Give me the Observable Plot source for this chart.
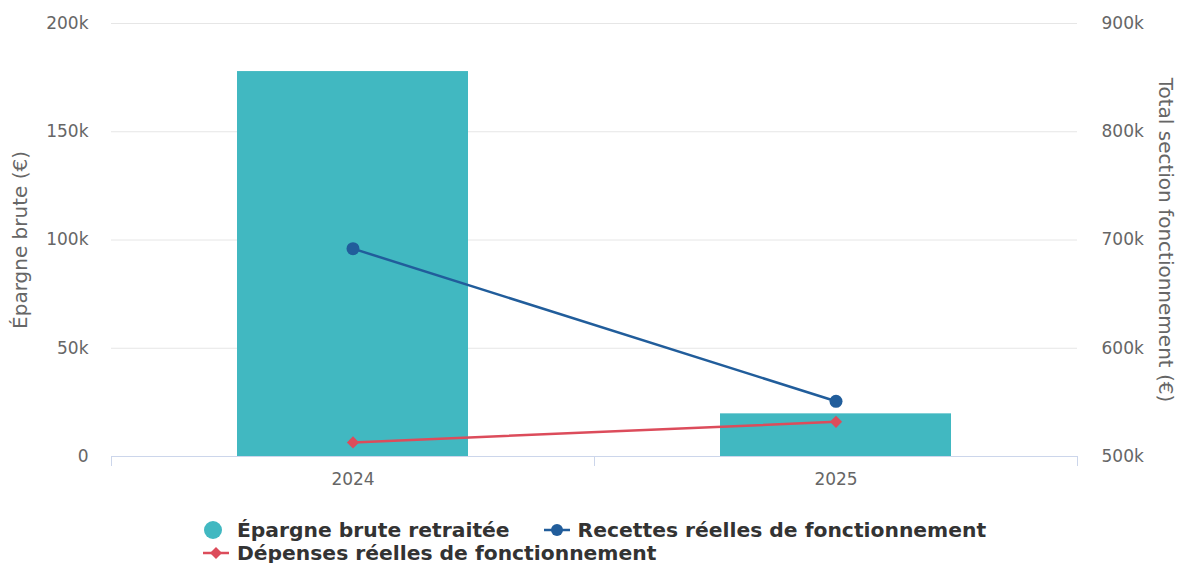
<!DOCTYPE html>
<html><head><meta charset="utf-8">
<script src="https://cdn.jsdelivr.net/npm/d3@7"></script>
<script src="https://cdn.jsdelivr.net/npm/@observablehq/plot@0.6"></script>
<style>
body{margin:0;background:#fff;font-family:"DejaVu Sans",sans-serif;}
#chart svg{display:block;}
#legend{position:relative;margin-left:203px;width:820px;display:flex;flex-wrap:wrap;column-gap:34px;row-gap:0px;margin-top:18px;}
.item{display:flex;align-items:center;height:23px;font-weight:bold;font-size:20.3px;color:#333;white-space:nowrap;}
.item svg{margin-right:8px;}
</style></head><body><div id="chart"></div><div id="legend"></div>
<script>
const years = ["2024", "2025"];
const epargne = [177800, 19700];
const recettes = [692000, 551000];
const depenses = [513000, 532000];
const leftTicks = [0, 50000, 100000, 150000, 200000];
const rightTicks = [500000, 600000, 700000, 800000, 900000];
const seriesNames = ["Épargne brute retraitée", "Recettes réelles de fonctionnement", "Dépenses réelles de fonctionnement"];
const colors = ["#41b8c1", "#215d9b", "#dc4c5b"];
const leftTitle = "Épargne brute (€)";
const rightTitle = "Total section fonctionnement (€)";

const rightMin = rightTicks[0], rightMax = rightTicks[rightTicks.length - 1], leftMax = leftTicks[leftTicks.length - 1];
const toLeft = v => (v - rightMin) * leftMax / (rightMax - rightMin);
const fromLeft = d => rightMin + d * (rightMax - rightMin) / leftMax;
const kfmt = v => v === 0 ? "0" : Math.round(v / 1000) + "k";

const bars = years.map((y, i) => ({year: y, value: epargne[i]}));
const rec = years.map((y, i) => ({year: y, value: toLeft(recettes[i])}));
const dep = years.map((y, i) => ({year: y, value: toLeft(depenses[i])}));

const W = 1180, H = 500, ML = 111, MR = 103;
const padIn = 0.522, padOut = padIn / 2;

// category boundary ticks below the x baseline (Highcharts-style)
function boundaryTicks(index, scales, values, dims) {
  const g = d3.create("svg:g");
  const n = years.length;
  const x0 = dims.marginLeft, x1 = dims.width - dims.marginRight;
  const y0 = scales.y(0);
  for (let k = 0; k <= n; k++) {
    const x = x0 + k * (x1 - x0) / n;
    g.append("line").attr("x1", x).attr("x2", x).attr("y1", y0).attr("y2", y0 + 10)
      .attr("stroke", "#ccd6eb").attr("stroke-width", 1).attr("shape-rendering", "crispEdges");
  }
  return g.node();
}

const plot = Plot.plot({
  width: W, height: H,
  marginLeft: ML, marginRight: MR, marginTop: 23, marginBottom: 44,
  style: {fontFamily: "DejaVu Sans, sans-serif", fontSize: "17px", color: "#666", background: "#fff"},
  x: {type: "band", domain: years, paddingInner: padIn, paddingOuter: padOut, label: null},
  y: {domain: [0, leftMax], label: null},
  marks: [
    Plot.gridY(leftTicks.slice(1), {stroke: "#e6e6e6", strokeOpacity: 1}),
    Plot.barY(bars, {x: "year", y: "value", fill: colors[0]}),
    Plot.ruleY([0], {stroke: "#ccd6eb", strokeWidth: 1}),
    boundaryTicks,
    Plot.line(rec, {x: "year", y: "value", stroke: colors[1], strokeWidth: 2.5}),
    Plot.dot(rec, {x: "year", y: "value", fill: colors[1], r: 6.5, symbol: "circle"}),
    Plot.line(dep, {x: "year", y: "value", stroke: colors[2], strokeWidth: 2.5}),
    Plot.dot(dep, {x: "year", y: "value", fill: colors[2], r: 5.5, symbol: "diamond2"}),
    Plot.axisY(leftTicks, {anchor: "left", tickSize: 0, tickPadding: 23, tickFormat: kfmt, label: null, fontSize: 17, fill: "#666"}),
    Plot.axisY(leftTicks, {anchor: "right", tickSize: 0, tickPadding: 24, tickFormat: d => kfmt(fromLeft(d)), label: null, fontSize: 17, fill: "#666"}),
    Plot.axisX({tickSize: 0, tickPadding: 16, fontSize: 17, fill: "#666", label: null}),
    Plot.text([leftTitle], {frameAnchor: "left", textAnchor: "middle", rotate: -90, dx: -91, fontSize: 20, fill: "#666"}),
    Plot.text([rightTitle], {frameAnchor: "right", textAnchor: "middle", rotate: 90, dx: 88, fontSize: 20, fill: "#666"})
  ]
});
document.getElementById("chart").appendChild(plot);

const legend = document.getElementById("legend");
const symbols = [
  `<svg width="26" height="20"><circle cx="10" cy="10" r="9" fill="${colors[0]}"/></svg>`,
  `<svg width="26" height="20"><line x1="0" y1="10" x2="26" y2="10" stroke="${colors[1]}" stroke-width="2.5"/><circle cx="13" cy="10" r="6" fill="${colors[1]}"/></svg>`,
  `<svg width="26" height="20"><line x1="0" y1="10" x2="26" y2="10" stroke="${colors[2]}" stroke-width="2.5"/><path d="M13 4 L19 10 L13 16 L7 10 Z" fill="${colors[2]}"/></svg>`
];
seriesNames.forEach((n, i) => {
  const d = document.createElement("div");
  d.className = "item";
  d.innerHTML = symbols[i] + `<span>${n}</span>`;
  legend.appendChild(d);
});
</script></body></html>
